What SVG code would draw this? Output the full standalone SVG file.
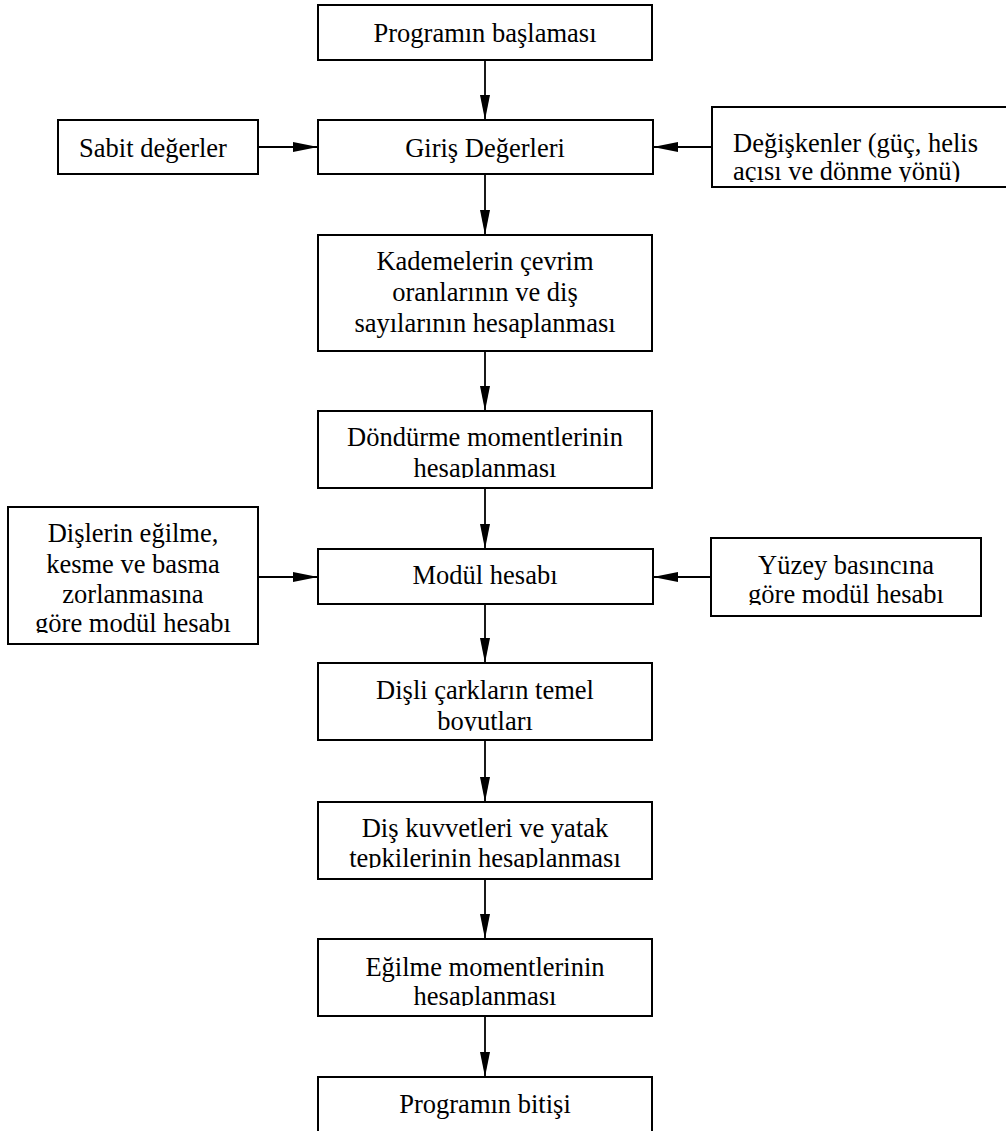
<svg xmlns="http://www.w3.org/2000/svg" width="1006" height="1131" viewBox="0 0 1006 1131">
<style>
.box{fill:#fff;stroke:#000;stroke-width:2}
.t{font-family:"Liberation Serif","Times New Roman",serif;font-size:26.5px;fill:#000}
.c{text-anchor:middle}
.edge{stroke:#000;stroke-width:1.8;fill:none;marker-end:url(#ah)}
</style>
<defs>
<marker id="ah" markerUnits="userSpaceOnUse" markerWidth="25" markerHeight="10" refX="25" refY="5" orient="auto">
<path d="M0,0 L25,5 L0,10 z" fill="#000"/>
</marker>
<clipPath id="cDeg"><rect x="712" y="107" width="294" height="75"/></clipPath>
<clipPath id="cDon"><rect x="318" y="411" width="334" height="67"/></clipPath>
<clipPath id="cDis"><rect x="8" y="507" width="250" height="126"/></clipPath>
<clipPath id="cYuz"><rect x="711" y="538" width="270" height="67"/></clipPath>
<clipPath id="cCark"><rect x="318" y="663" width="334" height="68"/></clipPath>
<clipPath id="cKuv"><rect x="318" y="802" width="334" height="66"/></clipPath>
<clipPath id="cEgi"><rect x="318" y="939" width="334" height="67"/></clipPath>
</defs>
<g id="connectors">
<path class="edge" d="M485,60 L485,120"/>
<path class="edge" d="M258,147 L318,147"/>
<path class="edge" d="M712,147 L653,147"/>
<path class="edge" d="M485,174 L485,235"/>
<path class="edge" d="M485,351 L485,411"/>
<path class="edge" d="M485,488 L485,549"/>
<path class="edge" d="M258,577 L318,577"/>
<path class="edge" d="M711,577 L653,577"/>
<path class="edge" d="M485,604 L485,663"/>
<path class="edge" d="M485,740 L485,802"/>
<path class="edge" d="M485,879 L485,939"/>
<path class="edge" d="M485,1016 L485,1077"/>
</g>
<g id="start">
<rect class="box" x="318" y="5" width="334" height="55"/>
<text class="t c" x="485" y="42.3">Programın başlaması</text>
</g>
<g id="sabit">
<rect class="box" x="58" y="120" width="200" height="54"/>
<text class="t c" x="153" y="156.7">Sabit değerler</text>
</g>
<g id="giris">
<rect class="box" x="318" y="120" width="335" height="54"/>
<text class="t c" x="485" y="156.7">Giriş Değerleri</text>
</g>
<g id="degiskenler">
<rect class="box" x="712" y="107" width="300" height="80"/>
<g clip-path="url(#cDeg)">
<text class="t" x="733" y="152">Değişkenler (güç, helis</text>
<text class="t" x="733" y="180">açısı ve dönme yönü)</text>
</g>
</g>
<g id="kademeler">
<rect class="box" x="318" y="235" width="334" height="116"/>
<text class="t c" x="485" y="270">Kademelerin çevrim</text>
<text class="t c" x="485" y="301">oranlarının ve diş</text>
<text class="t c" x="485" y="332.3">sayılarının hesaplanması</text>
</g>
<g id="dondurme">
<rect class="box" x="318" y="411" width="334" height="77"/>
<g clip-path="url(#cDon)">
<text class="t c" x="485" y="446">Döndürme momentlerinin</text>
<text class="t c" x="485" y="476.7">hesaplanması</text>
</g>
</g>
<g id="disler">
<rect class="box" x="8" y="507" width="250" height="137"/>
<g clip-path="url(#cDis)">
<text class="t c" x="133" y="541.7">Dişlerin eğilme,</text>
<text class="t c" x="133" y="572.7">kesme ve basma</text>
<text class="t c" x="133" y="602.7">zorlanmasına</text>
<text class="t c" x="133" y="631.7">göre modül hesabı</text>
</g>
</g>
<g id="modul">
<rect class="box" x="318" y="549" width="335" height="55"/>
<text class="t c" x="485" y="584.3">Modül hesabı</text>
</g>
<g id="yuzey">
<rect class="box" x="711" y="538" width="270" height="78"/>
<g clip-path="url(#cYuz)">
<text class="t c" x="846" y="574">Yüzey basıncına</text>
<text class="t c" x="846" y="603.3">göre modül hesabı</text>
</g>
</g>
<g id="cark">
<rect class="box" x="318" y="663" width="334" height="77"/>
<g clip-path="url(#cCark)">
<text class="t c" x="485" y="699.3">Dişli çarkların temel</text>
<text class="t c" x="485" y="730">boyutları</text>
</g>
</g>
<g id="kuvvet">
<rect class="box" x="318" y="802" width="334" height="77"/>
<g clip-path="url(#cKuv)">
<text class="t c" x="485" y="837.3">Diş kuvvetleri ve yatak</text>
<text class="t c" x="485" y="866.7">tepkilerinin hesaplanması</text>
</g>
</g>
<g id="egilme">
<rect class="box" x="318" y="939" width="334" height="77"/>
<g clip-path="url(#cEgi)">
<text class="t c" x="485" y="975.7">Eğilme momentlerinin</text>
<text class="t c" x="485" y="1005">hesaplanması</text>
</g>
</g>
<g id="end">
<rect class="box" x="318" y="1077" width="334" height="80"/>
<text class="t c" x="485" y="1113">Programın bitişi</text>
</g>
</svg>
